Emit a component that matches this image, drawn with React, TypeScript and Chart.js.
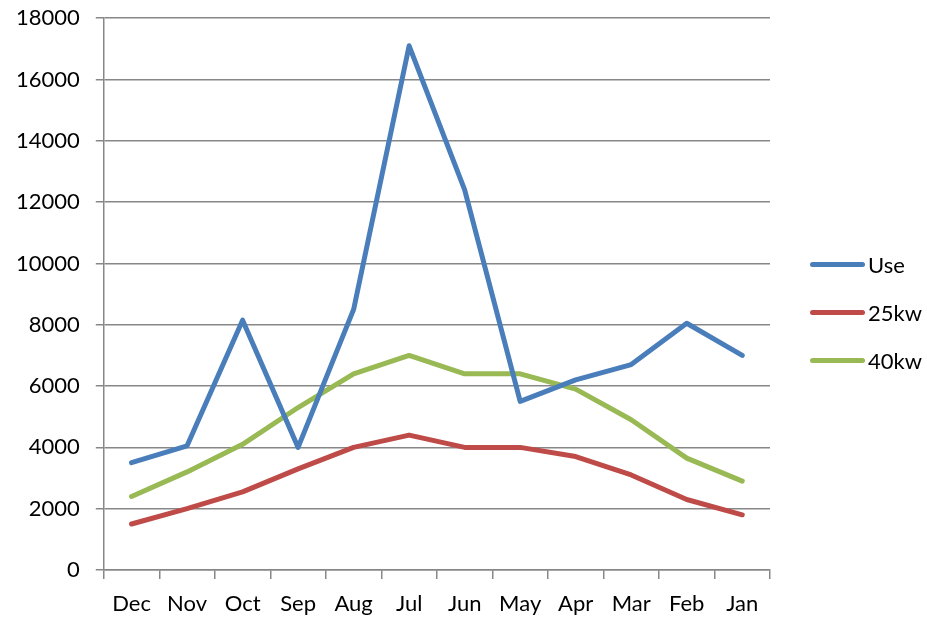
import React, { useRef, useEffect } from "react";
import { Chart, registerables } from "chart.js";

Chart.register(...registerables);

const months = ["Dec", "Nov", "Oct", "Sep", "Aug", "Jul", "Jun", "May", "Apr", "Mar", "Feb", "Jan"];
const useValues = [3500, 4050, 8150, 4000, 8500, 17100, 12400, 5500, 6200, 6700, 8050, 7000];
const kw25Values = [1500, 2000, 2550, 3300, 4000, 4400, 4000, 4000, 3700, 3100, 2300, 1800];
const kw40Values = [2400, 3200, 4100, 5300, 6400, 7000, 6400, 6400, 5900, 4900, 3650, 2900];
const seriesNames = ["Use", "25kw", "40kw"];
const seriesColors = ["#4A7EBB", "#BE4B48", "#98B954"];

const FONT = "Lato, 'Open Sans', sans-serif";
const GRID = "#878787";

const App: React.FC = () => {
  const chartRef = useRef<HTMLCanvasElement | null>(null);

  useEffect(() => {
    if (!chartRef.current) return;
    const ctx = chartRef.current.getContext("2d");
    if (!ctx) return;

    const values = [useValues, kw25Values, kw40Values];

    const chartInstance = new Chart(ctx, {
      type: "line",
      data: {
        labels: months,
        datasets: seriesNames.map((name, i) => ({
          label: name,
          data: values[i],
          borderColor: seriesColors[i],
          backgroundColor: seriesColors[i],
        })),
      },
      options: {
        responsive: true,
        maintainAspectRatio: false,
        animation: false,
        elements: {
          line: { borderWidth: 5, tension: 0, borderCapStyle: "round", borderJoinStyle: "round" },
          point: { radius: 0 },
        },
        layout: { padding: { top: 0, left: 0, right: 157, bottom: -9 } },
        plugins: {
          tooltip: { enabled: false },
          legend: { display: false },
        },
        scales: {
          x: {
            offset: true,
            grid: { drawOnChartArea: false, offset: true, color: GRID, lineWidth: 1.5, tickLength: 9 },
            border: { color: GRID, width: 1.5 },
            ticks: {
              color: "#000",
              padding: 14,
              maxRotation: 0,
              autoSkip: false,
              font: { size: 22, family: FONT, lineHeight: 1 },
            },
          },
          y: {
            min: 0,
            max: 18000,
            ticks: {
              stepSize: 2000,
              color: "#000",
              padding: 16,
              font: { size: 22, family: FONT, lineHeight: 0.2 },
              callback: (value) => String(value),
            },
            grid: { color: GRID, lineWidth: 1.5, tickLength: 8 },
            border: { color: GRID, width: 1.5 },
          },
        },
      },
    });

    return () => {
      chartInstance.destroy();
    };
  }, []);

  return (
    <div style={{ position: "absolute", left: 0, top: 0, width: 927, height: 620, background: "#fff" }}>
      <canvas ref={chartRef} />
      {seriesNames.map((name, i) => (
        <div
          key={name}
          style={{
            position: "absolute",
            left: 810,
            top: 264 + i * 48 - 15,
            height: 30,
            display: "flex",
            alignItems: "center",
            fontFamily: FONT,
            fontSize: 22,
            color: "#000",
          }}
        >
          <span
            style={{
              display: "inline-block",
              width: 55,
              height: 5,
              borderRadius: 3,
              background: seriesColors[i],
              marginRight: 3,
            }}
          />
          <span>{name}</span>
        </div>
      ))}
    </div>
  );
};

export default App;
